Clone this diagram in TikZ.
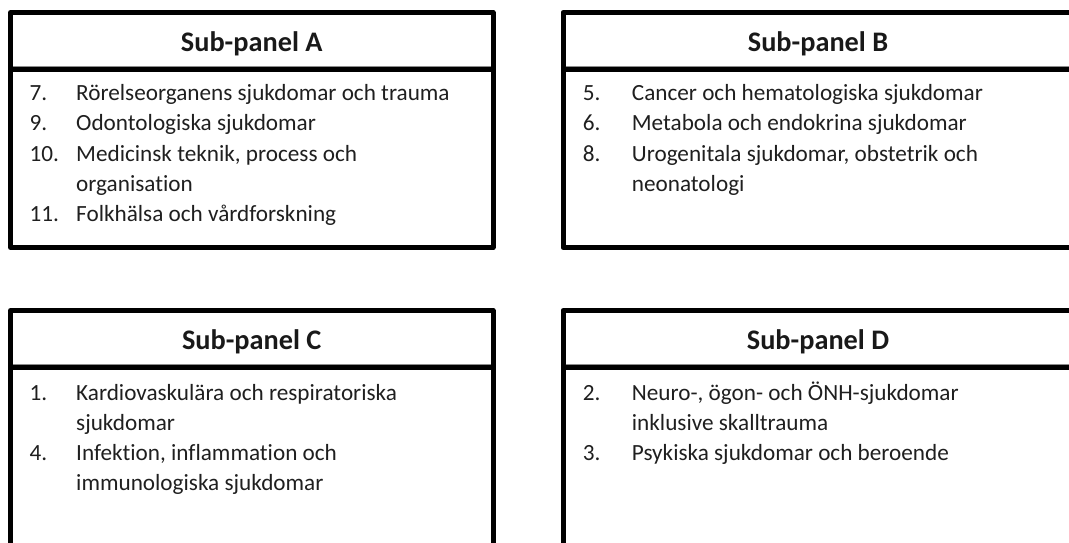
\documentclass[tikz,border=0pt]{standalone}
\usepackage{fontspec}
\setmainfont[Ligatures=NoCommon]{Carlito}
\begin{document}
\begin{tikzpicture}[x=1pt,y=-1pt,
  panel/.style={line width=5pt, line join=round, draw=black},
  thin/.style={line width=0.6pt, draw=black!45},
  title/.style={anchor=base, inner sep=0pt, font=\fontsize{28.3}{34}\selectfont\bfseries, text=black!90},
  itm/.style={anchor=base west, inner sep=0pt, font=\fontsize{23.2}{30}\selectfont, text=black!88}
]
\useasboundingbox (0,0) rectangle (1069,543);
\clip (0,0) rectangle (1069,543);
% Panel A
\draw[panel] (10.5,12.5) rectangle (493,247.5);
\draw[thin] (13,66.3) -- (490.5,66.3);
\draw[panel] (10.5,69.5) -- (493,69.5);
\node[title] (ta) at (251.7,52) {Sub-panel A};
\node[itm] (a7n) at (29.3,101) {7.};
\node[itm] (a7) at (76,101) {Rörelseorganens sjukdomar och trauma};
\node[itm] (a9n) at (29.3,131) {9.};
\node[itm] (a9) at (76,131) {Odontologiska sjukdomar};
\node[itm] (a10n) at (29.3,161.5) {10.};
\node[itm] (a10) at (76,161.5) {Medicinsk teknik, process och};
\node[itm] (a10b) at (76,191.5) {organisation};
\node[itm] (a11n) at (29.3,221.5) {11.};
\node[itm] (a11) at (76,221.5) {Folkhälsa och vårdforskning};
% Panel B
\draw[panel] (563,12.5) rectangle (1073,247.5);
\draw[thin] (565.5,66.3) -- (1073,66.3);
\draw[panel] (563,69.5) -- (1073,69.5);
\node[title] (tb) at (818,52) {Sub-panel B};
\node[itm] (b5n) at (582.7,101) {5.};
\node[itm] (b5) at (631.7,101) {Cancer och hematologiska sjukdomar};
\node[itm] (b6n) at (582.7,131) {6.};
\node[itm] (b6) at (631.7,131) {Metabola och endokrina sjukdomar};
\node[itm] (b8n) at (582.7,161.5) {8.};
\node[itm] (b8) at (631.7,161.5) {Urogenitala sjukdomar, obstetrik och};
\node[itm] (b8b) at (631.7,191.5) {neonatologi};
% Panel C
\draw[panel] (10.5,560) -- (10.5,310.5) -- (493,310.5) -- (493,560);
\draw[thin] (13,364) -- (490.5,364);
\draw[panel] (10.5,367) -- (493,367);
\node[title] (tc) at (251.7,349) {Sub-panel C};
\node[itm] (c1n) at (29.3,400) {1.};
\node[itm] (c1) at (76,400) {Kardiovaskulära och respiratoriska};
\node[itm] (c1b) at (76,430) {sjukdomar};
\node[itm] (c4n) at (29.3,460) {4.};
\node[itm] (c4) at (76,460) {Infektion, inflammation och};
\node[itm] (c4b) at (76,490) {immunologiska sjukdomar};
% Panel D
\draw[panel] (563,560) -- (563,310.5) -- (1073,310.5);
\draw[thin] (565.5,364) -- (1073,364);
\draw[panel] (563,367) -- (1073,367);
\node[title] (td) at (818,349) {Sub-panel D};
\node[itm] (d2n) at (582.7,400) {2.};
\node[itm] (d2) at (631.7,400) {Neuro-, ögon- och ÖNH-sjukdomar};
\node[itm] (d2b) at (631.7,430) {inklusive skalltrauma};
\node[itm] (d3n) at (582.7,460) {3.};
\node[itm] (d3) at (631.7,460) {Psykiska sjukdomar och beroende};
\end{tikzpicture}
\end{document}
